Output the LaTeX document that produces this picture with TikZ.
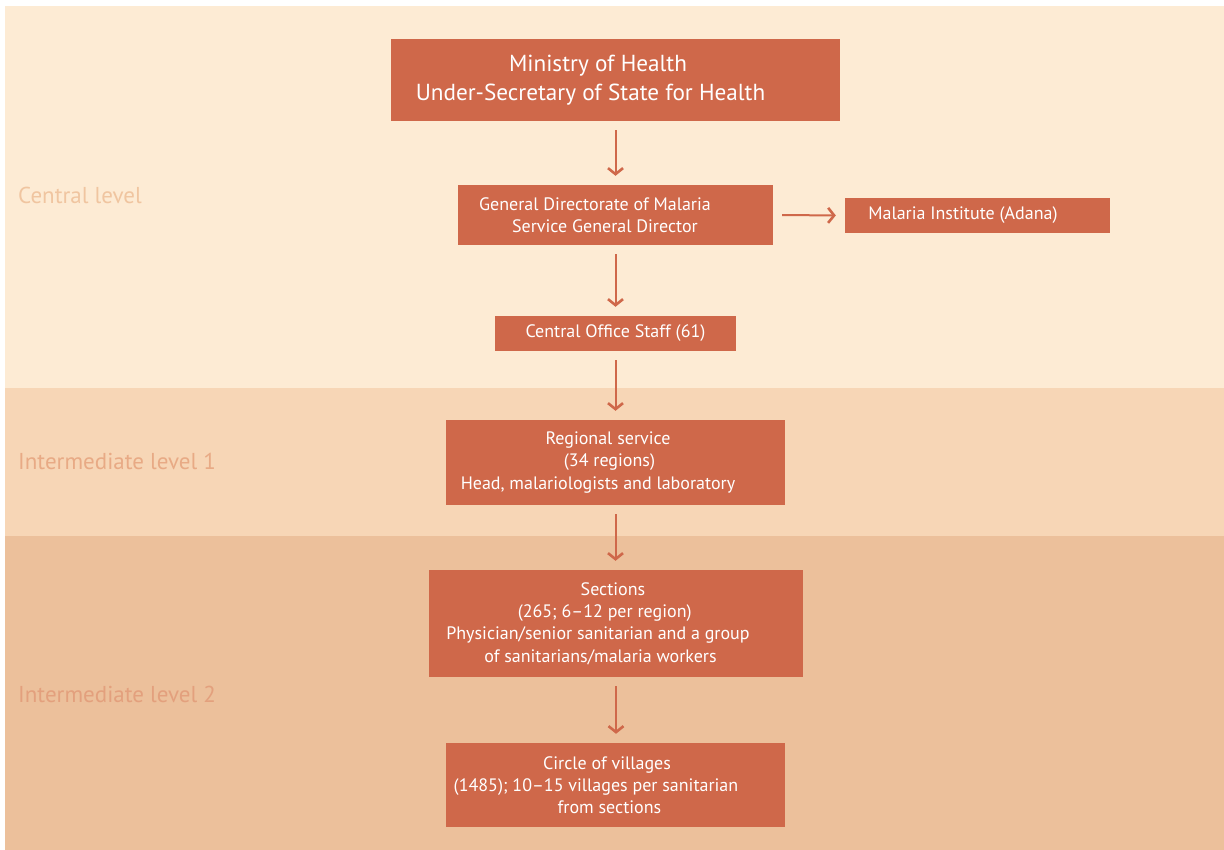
\documentclass[tikz,border=0pt]{standalone}
\usepackage{fontspec}
\setmainfont{PT Sans}
\usetikzlibrary{arrows.meta}
\definecolor{boxc}{HTML}{CF684A}
\definecolor{bandA}{HTML}{FDEBD4}
\definecolor{bandB}{HTML}{F7D6B6}
\definecolor{bandC}{HTML}{ECC09B}
\definecolor{labA}{HTML}{F0C5A0}
\definecolor{labB}{HTML}{E8AA85}
\definecolor{labC}{HTML}{E3A07D}
% one text line whose centre lies #1 right of the box centre
\newcommand{\offline}[2]{\makebox[60pt][l]{\hspace*{30pt}\hspace*{#1}\makebox[0pt]{#2}}}
\tikzset{
  orgbox/.style={fill=boxc, draw=none, text=white, align=center, inner sep=0pt,
    font=\fontsize{18}{22.3}\selectfont},
  bigbox/.style={orgbox, font=\fontsize{23.2}{29.5}\selectfont},
  levellabel/.style={anchor=base west, inner sep=0pt, font=\fontsize{23}{28}\selectfont},
  flow/.style={draw=boxc, line width=2pt, -{Straight Barb[length=6pt,width=15pt,line width=2.6pt]},
    shorten <=9pt, shorten >=9pt}
}
\begin{document}
\begin{tikzpicture}[x=1pt,y=-1pt]
\useasboundingbox (0,0) rectangle (1224,850);
\fill[white] (0,0) rectangle (1224,850);
\fill[bandA] (5,6) rectangle (1224,388);
\fill[bandB] (5,388) rectangle (1224,536);
\fill[bandC] (5,536) rectangle (1224,850);

\node[levellabel, text=labA] (lc) at (18,204) {Central level};
\node[levellabel, text=labB] (li1) at (18,469) {Intermediate level 1};
\node[levellabel, text=labC] (li2) at (18,702) {Intermediate level 2};

\node[bigbox, minimum width=449pt, minimum height=82pt] (moh) at (615.5,80)
  {\offline{-17.5pt}{Ministry of Health}\\\offline{-25pt}{Under-Secretary of State for Health}};
\node[orgbox, minimum width=315pt, minimum height=60pt] (gd) at (615.5,215)
  {\offline{-20.5pt}{General Directorate of Malaria}\\\offline{-10.5pt}{Service General Director}};
\node[orgbox, minimum width=265pt, minimum height=35pt] (mi) at (977.5,215.5)
  {\offline{-14.5pt}{Malaria Institute (Adana)}};
\node[orgbox, minimum width=241pt, minimum height=35pt] (cos) at (615.5,333.5)
  {\offline{0pt}{Central Office Staff (61)}};
\node[orgbox, minimum width=339pt, minimum height=85pt] (rs) at (615.5,462.5)
  {\offline{-7.5pt}{Regional service}\\\offline{-6pt}{(34 regions)}\\\offline{-17.5pt}{Head, malariologists and laboratory}};
\node[orgbox, minimum width=374pt, minimum height=107pt] (sec) at (616,623.5)
  {\offline{-3pt}{Sections}\\\offline{-11.3pt}{(265; 6--12 per region)}\\\offline{-18pt}{Physician/senior sanitarian and a group}\\\offline{-15.5pt}{of sanitarians/malaria workers}};
\node[orgbox, minimum width=339pt, minimum height=84pt] (cv) at (615.5,785)
  {\offline{-8.5pt}{Circle of villages}\\\offline{-19.5pt}{(1485); 10--15 villages per sanitarian}\\\offline{-6pt}{from sections}};

\draw[flow] (moh.south) -- (gd.north);
\draw[flow] (gd.east) -- (mi.west);
\draw[flow] (gd.south) -- (cos.north);
\draw[flow] (cos.south) -- (rs.north);
\draw[flow] (rs.south) -- (rs.south |- sec.north);
\draw[flow] (sec.south) -- (sec.south |- cv.north);
\end{tikzpicture}
\end{document}
